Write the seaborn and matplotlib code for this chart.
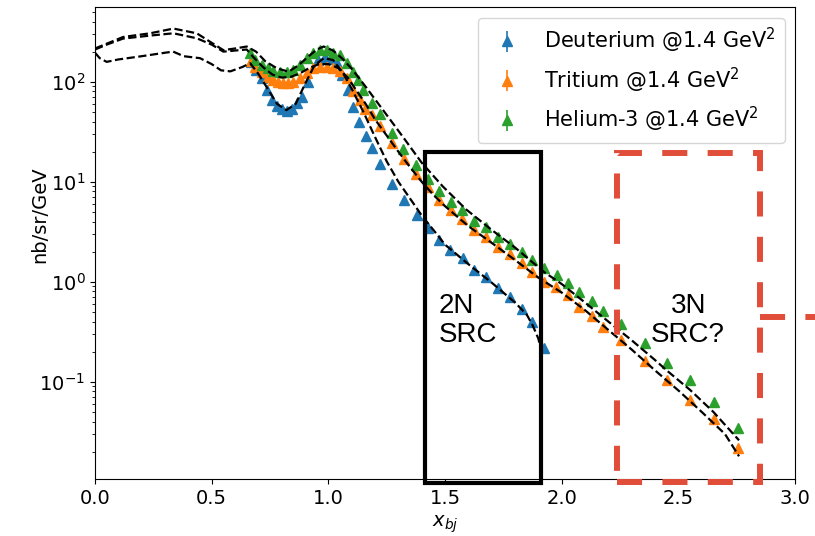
import matplotlib
matplotlib.use("Agg")
import matplotlib.pyplot as plt
from matplotlib.patches import Rectangle
import numpy as np
import seaborn as sns

# ---- measured cross sections (nb/sr/GeV) vs Bjorken x ----
d_x = [0.670, 0.692, 0.714, 0.737, 0.757, 0.779, 0.800, 0.822, 0.843, 0.865,
       0.886, 0.914, 0.957, 0.985, 1.010, 1.036, 1.060, 1.086, 1.107, 1.132,
       1.160, 1.186, 1.221, 1.271, 1.326, 1.379, 1.429, 1.474, 1.522, 1.576,
       1.626, 1.676, 1.729, 1.779, 1.829, 1.874, 1.926]
d_y = [158, 130, 108, 83, 66, 57, 53, 51, 54, 61,
       71, 100, 165, 175, 168, 153, 118, 83, 56, 40,
       28.5, 21.8, 15.2, 9.4, 6.5, 4.64, 3.42, 2.61, 2.07, 1.71,
       1.31, 1.12, 0.86, 0.71, 0.54, 0.40, 0.216]

t_x = [0.668, 0.686, 0.714, 0.743, 0.764, 0.786, 0.807, 0.829, 0.850, 0.879,
       0.907, 0.936, 0.964, 0.993, 1.021, 1.050, 1.079, 1.107, 1.136, 1.157,
       1.186, 1.221, 1.272, 1.326, 1.376, 1.429, 1.474, 1.525, 1.574, 1.626,
       1.676, 1.729, 1.779, 1.829, 1.874, 1.926, 1.976, 2.026, 2.076, 2.129,
       2.179, 2.255, 2.355, 2.450, 2.550, 2.653, 2.757]
t_y = [160, 141, 126, 112, 104, 100, 97, 97, 100, 108,
       121, 136, 141, 141, 137, 128, 108, 80, 66, 54,
       46.4, 36, 24.2, 16.8, 12.0, 8.8, 6.56, 5.21, 4.21, 3.29,
       2.78, 2.24, 1.89, 1.53, 1.26, 1.0, 0.891, 0.736, 0.562, 0.454,
       0.355, 0.261, 0.162, 0.104, 0.0656, 0.0421, 0.0216]

h_x = [0.664, 0.686, 0.714, 0.743, 0.764, 0.793, 0.822, 0.850, 0.879, 0.907,
       0.936, 0.964, 0.993, 1.021, 1.050, 1.079, 1.107, 1.128, 1.150, 1.186,
       1.221, 1.272, 1.322, 1.375, 1.429, 1.474, 1.525, 1.574, 1.626, 1.676,
       1.729, 1.779, 1.829, 1.874, 1.926, 1.978, 2.026, 2.076, 2.129, 2.179,
       2.255, 2.355, 2.450, 2.550, 2.653, 2.757]
h_y = [192, 165, 147, 136, 128, 124, 126, 131, 147, 171,
       192, 207, 207, 192, 185, 153, 126, 104, 83, 61,
       47.5, 30.5, 21.2, 14.6, 10.6, 8.13, 6.31, 5.21, 4.07, 3.50,
       2.82, 2.38, 2.0, 1.65, 1.36, 1.18, 0.977, 0.794, 0.646, 0.513,
       0.378, 0.245, 0.153, 0.104, 0.0622, 0.0342]

# relative statistical uncertainty on each point
rel_err = 0.02

# ---- model calculations ----
md_x = [0.00, 0.02, 0.05, 0.10, 0.20, 0.30, 0.335, 0.38, 0.45, 0.50,
        0.54, 0.58, 0.63, 0.665, 0.70, 0.74, 0.78, 0.82, 0.86, 0.90,
        0.94, 0.98, 1.02, 1.06, 1.10, 1.15, 1.20, 1.25, 1.30, 1.35,
        1.40, 1.45, 1.50, 1.60, 1.70, 1.80, 1.85, 1.875, 1.90, 1.915]
md_y = [195, 172, 158, 167, 180, 195, 200, 180, 172, 150,
        130, 127, 140, 153, 120, 85, 60, 52, 60, 95,
        145, 172, 165, 125, 85, 50, 28, 16, 10, 6.8,
        4.6, 3.3, 2.35, 1.5, 0.98, 0.62, 0.47, 0.37, 0.27, 0.19]

mt_x = [0.00, 0.05, 0.12, 0.24, 0.336, 0.436, 0.50, 0.55, 0.60, 0.65,
        0.68, 0.72, 0.76, 0.80, 0.84, 0.88, 0.92, 0.96, 1.00, 1.04,
        1.08, 1.12, 1.16, 1.20, 1.25, 1.30, 1.35, 1.40, 1.45, 1.50,
        1.60, 1.70, 1.80, 1.90, 2.00, 2.10, 2.20, 2.30, 2.40, 2.50,
        2.60, 2.70, 2.76]
mt_y = [210, 235, 270, 290, 305, 272, 235, 200, 205, 210,
        175, 140, 118, 110, 112, 122, 138, 150, 150, 138,
        112, 82, 60, 42, 29, 20, 14, 10, 7.4, 5.7,
        3.6, 2.45, 1.65, 1.1, 0.78, 0.52, 0.33, 0.21, 0.13, 0.082,
        0.050, 0.030, 0.018]

mh_x = [0.00, 0.05, 0.12, 0.236, 0.336, 0.436, 0.50, 0.55, 0.60, 0.65,
        0.69, 0.73, 0.78, 0.83, 0.87, 0.91, 0.95, 0.98, 1.02, 1.06,
        1.10, 1.16, 1.24, 1.32, 1.40, 1.49, 1.59, 1.70, 1.80, 1.925,
        2.00, 2.10, 2.20, 2.30, 2.40, 2.45, 2.55, 2.65, 2.76]
mh_y = [215, 240, 280, 305, 340, 305, 245, 207, 215, 225,
        200, 160, 136, 126, 145, 175, 210, 225, 205, 170,
        135, 89, 50, 28, 15.5, 9.0, 5.3, 3.3, 2.2, 1.25,
        0.95, 0.62, 0.40, 0.26, 0.165, 0.13, 0.083, 0.05, 0.026]

labels = ["Deuterium @1.4 GeV$^2$", "Tritium @1.4 GeV$^2$", "Helium-3 @1.4 GeV$^2$"]
colors = ["#1f77b4", "#ff7f0e", "#2ca02c"]

sns.set_theme(style="ticks", rc={
    "axes.edgecolor": "black", "axes.linewidth": 0.8,
    "xtick.color": "black", "ytick.color": "black",
    "xtick.major.size": 3.5, "ytick.major.size": 3.5,
    "ytick.minor.size": 2.0, "xtick.major.width": 0.8,
    "ytick.major.width": 0.8, "ytick.minor.width": 0.6,
    "xtick.labelsize": 14, "ytick.labelsize": 14,
    "axes.labelsize": 14, "legend.fontsize": 15,
    "axes.labelcolor": "black", "text.color": "black",
})
plt.rcParams["font.family"] = ["DejaVu Sans"]
plt.rcParams["mathtext.fontset"] = "dejavusans"

fig = plt.figure(figsize=(8.15, 5.36), dpi=100)
ax = fig.add_axes([0.1166, 0.1058, 0.8589, 0.8806])

for mx, my in [(md_x, md_y), (mt_x, mt_y), (mh_x, mh_y)]:
    sns.lineplot(x=mx, y=my, ax=ax, color="black", linestyle="--",
                 linewidth=1.6, sort=False, estimator=None, zorder=3)

for xs, ys, lab, col in zip([d_x, t_x, h_x], [d_y, t_y, h_y], labels, colors):
    ys = np.asarray(ys)
    ax.errorbar(xs, ys, yerr=rel_err * ys, fmt="^", ms=7.5, color=col,
                ecolor=col, elinewidth=1.2, label=lab, zorder=2)

ax.set_yscale("log")
ax.set_xlim(0, 3.0)
ax.set_ylim(0.0106, 555)
ax.set_xticks([0.0, 0.5, 1.0, 1.5, 2.0, 2.5, 3.0])
ax.set_xlabel("$x_{bj}$")
ax.set_ylabel("nb/sr/GeV", fontsize=14)
ax.yaxis.set_label_coords(-0.066, 0.56)

ax.legend(loc="upper right", frameon=True)

# short-range-correlation regions
ax.add_patch(Rectangle((1.414, 0.0097), 0.496, 20 - 0.0097, fill=False,
                       edgecolor="black", linewidth=3, clip_on=False, zorder=5))
red = "#E04E39"
red_dash = (0, (4.2, 3.4))
ax.add_patch(Rectangle((2.237, 0.0100), 0.613, 19.5 - 0.0100, fill=False,
                       edgecolor=red, linewidth=4.3, linestyle=red_dash,
                       clip_on=False, zorder=5))
ax.plot([2.85, 3.2], [0.4436, 0.4436], color=red, linewidth=4.3,
        linestyle=red_dash, clip_on=False, zorder=5,
        dash_capstyle="butt")

ax.text(1.474, 0.414, "2N\nSRC", fontsize=20, family="Liberation Sans",
        ha="left", va="center", linespacing=1.15, zorder=6)
ax.text(2.542, 0.414, "3N\nSRC?", fontsize=20, family="Liberation Sans",
        ha="center", va="center", multialignment="center",
        linespacing=1.15, zorder=6)

fig.savefig("out.png", dpi=100)
